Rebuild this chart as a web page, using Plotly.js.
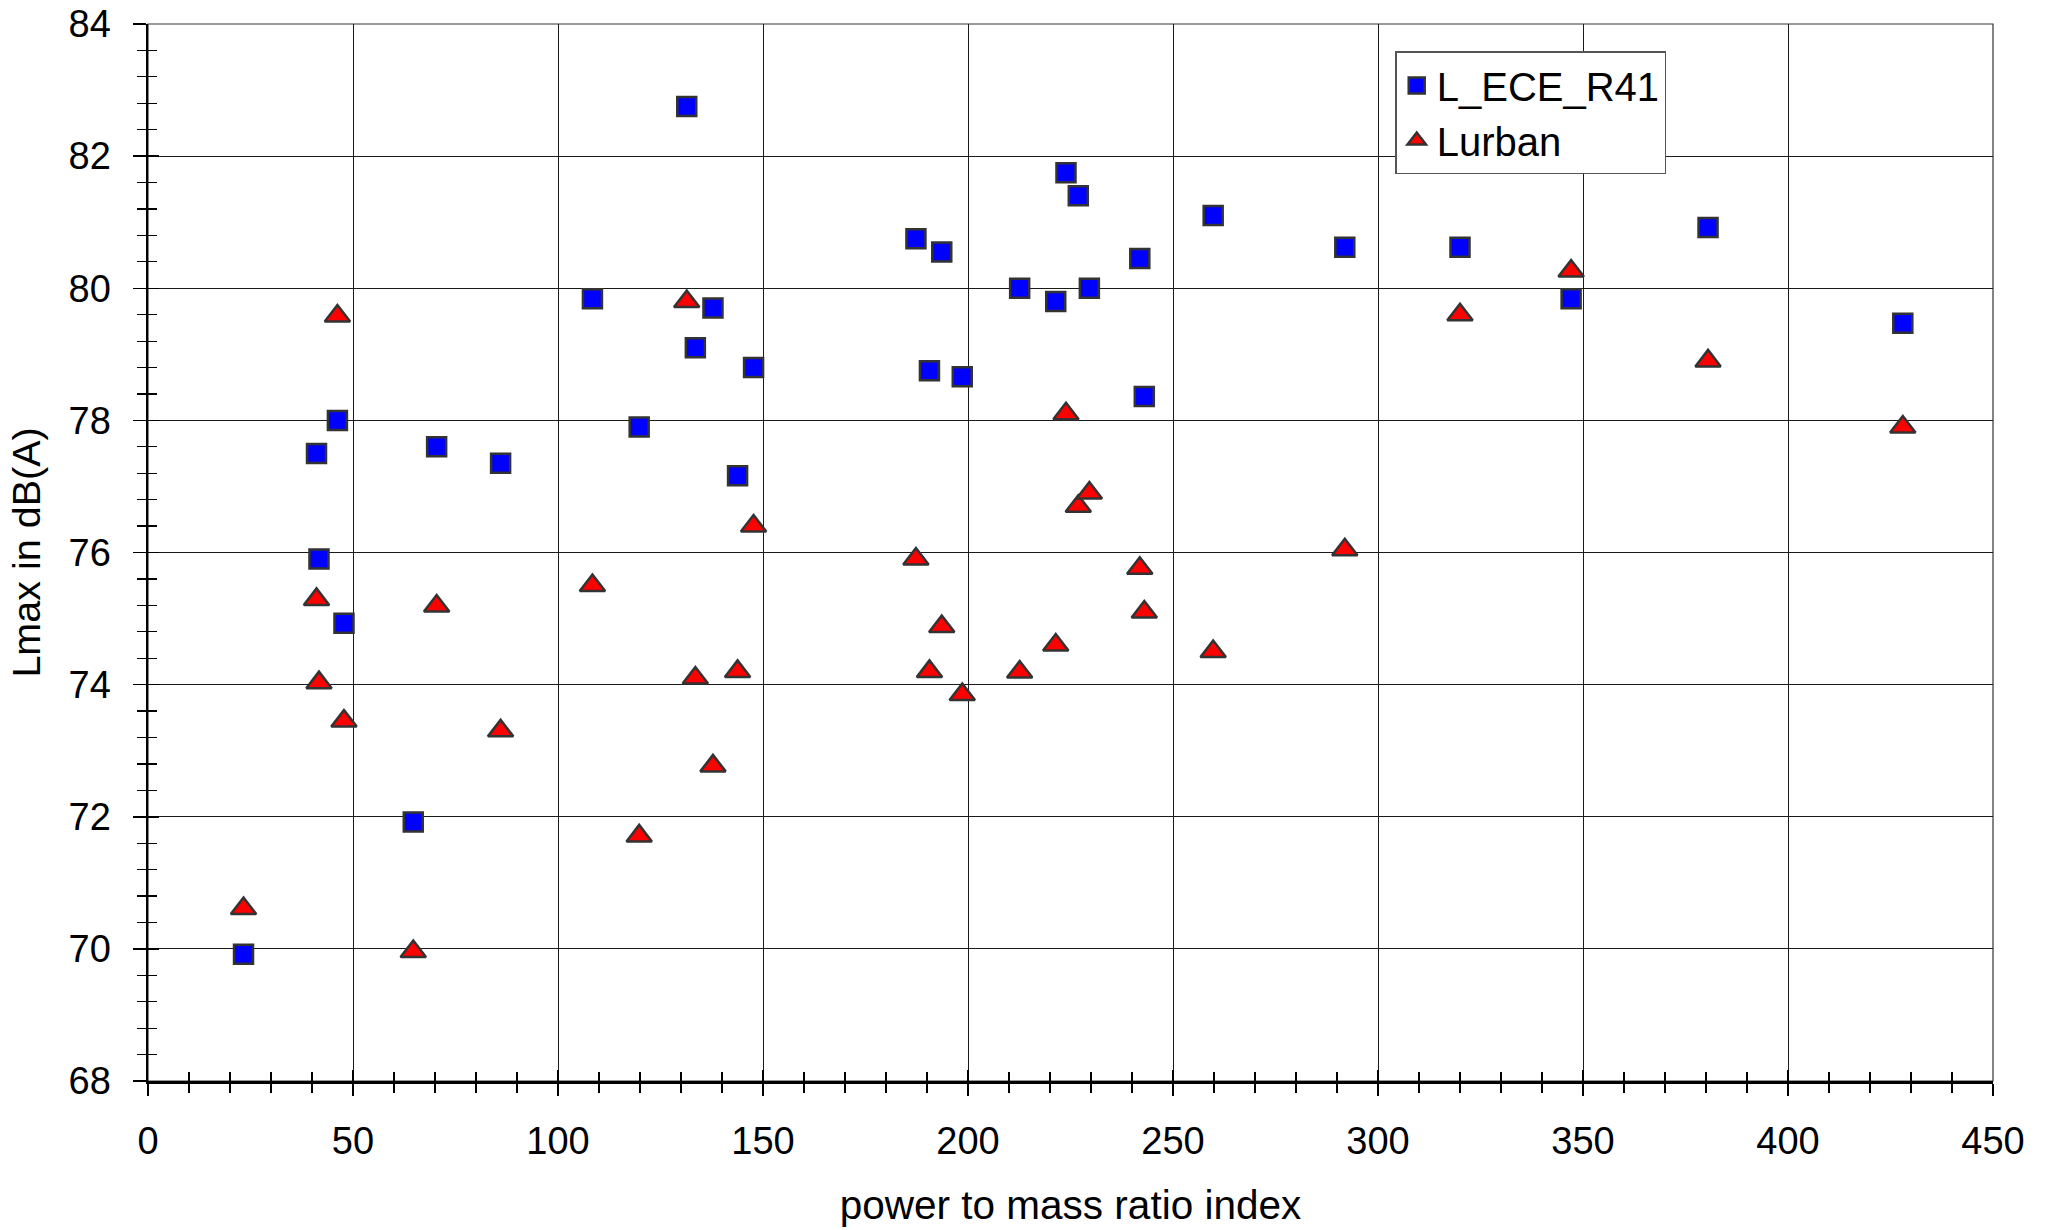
<!DOCTYPE html>
<html>
<head>
<meta charset="utf-8">
<script src="https://cdn.plot.ly/plotly-3.0.1.min.js"></script>
<style>
  html, body { margin: 0; padding: 0; background: #fff; }
  #chart { width: 2049px; height: 1230px; }
</style>
</head>
<body>
<div id="chart"></div>
<script>
// Power to mass ratio index of each vehicle
const pmrIndex = [23.3, 41.1, 41.7, 46.2, 47.8, 64.7, 70.4, 86.0, 108.4, 119.8,
                  131.4, 133.5, 137.8, 143.8, 147.7, 187.3, 190.6, 193.6, 198.6, 212.6,
                  221.4, 223.9, 226.9, 229.6, 241.9, 243.0, 259.8, 291.9, 320.0, 347.1,
                  380.5, 428.0];

// Maximum level per ECE R41 test, dB(A)
const lEceR41 = [69.92, 77.50, 75.90, 78.00, 74.93, 71.92, 77.60, 77.35, 79.84, 77.90,
                 82.75, 79.10, 79.70, 77.16, 78.80, 80.75, 78.75, 80.55, 78.66, 80.00,
                 79.80, 81.75, 81.40, 80.00, 80.45, 78.36, 81.10, 80.62, 80.62, 79.84,
                 80.92, 79.47];

// Maximum level in urban driving, dB(A)
const lUrban = [70.61, 75.29, 74.03, 79.58, 73.45, 69.96, 75.19, 73.30, 75.50, 71.71,
                79.80, 74.10, 72.77, 74.20, 76.40, 75.90, 74.20, 74.88, 73.85, 74.19,
                74.60, 78.10, 76.70, 76.90, 75.76, 75.10, 74.50, 76.04, 79.60, 80.26,
                78.90, 77.90];

const seriesNames = ['L_ECE_R41', 'Lurban'];
const xTitle = 'power to mass ratio index';
const yTitle = 'Lmax in dB(A)';

const FONT = '"Liberation Sans", Arial, Helvetica, sans-serif';
const edge = '#333333';

const traces = [
  {
    type: 'scatter', mode: 'markers', name: seriesNames[0],
    x: pmrIndex, y: lEceR41,
    marker: { symbol: 'square', size: 19, color: '#0000ff', line: { color: edge, width: 2.5 } },
    hoverinfo: 'x+y'
  },
  {
    type: 'scatter', mode: 'markers', name: seriesNames[1],
    x: pmrIndex, y: lUrban,
    marker: { symbol: 'triangle-up', size: 22, color: '#ff0000', line: { color: edge, width: 2.5 } },
    hoverinfo: 'x+y'
  },
  // empty trace that carries the inner half of the crossing tick marks
  { type: 'scatter', mode: 'markers', x: [], y: [], xaxis: 'x2', yaxis: 'y2',
    showlegend: false, hoverinfo: 'skip' }
];

const xRange = [0, 450];
const yRange = [68, 84];

const layout = {
  width: 2049, height: 1230,
  paper_bgcolor: '#ffffff', plot_bgcolor: '#ffffff',
  font: { family: FONT, size: 38, color: '#000' },
  margin: { l: 148, r: 56, t: 24, b: 149, pad: 0 },
  showlegend: true,
  legend: {
    x: 0.676, y: 0.974, xanchor: 'left', yanchor: 'top',
    bgcolor: '#ffffff', bordercolor: '#555555', borderwidth: 1.5,
    font: { family: FONT, size: 40, color: '#000' },
    itemsizing: 'trace', tracegroupgap: 0
  },
  xaxis: {
    range: xRange, dtick: 50, tick0: 0,
    showgrid: true, gridcolor: '#1a1a1a', gridwidth: 1,
    zeroline: false,
    showline: true, linecolor: '#000', linewidth: 2.5,
    ticks: 'outside', ticklen: 12, tickwidth: 1.5, tickcolor: '#000',
    minor: { dtick: 10, ticks: 'outside', ticklen: 9, tickwidth: 1.2, tickcolor: '#000', showgrid: false },
    tickfont: { family: FONT, size: 38, color: '#000' },
    ticklabelstandoff: 13,
    title: { text: xTitle, font: { family: FONT, size: 40.5, color: '#000' }, standoff: 30 },
    fixedrange: true
  },
  yaxis: {
    range: yRange, dtick: 2, tick0: 68,
    showgrid: true, gridcolor: '#1a1a1a', gridwidth: 1,
    zeroline: false,
    showline: true, linecolor: '#000', linewidth: 2.5,
    ticks: 'outside', ticklen: 13, tickwidth: 1.5, tickcolor: '#000',
    minor: { dtick: 0.4, ticks: 'outside', ticklen: 9, tickwidth: 1.2, tickcolor: '#000', showgrid: false },
    tickfont: { family: FONT, size: 38, color: '#000' },
    ticklabelstandoff: 14,
    title: { text: yTitle, font: { family: FONT, size: 39.5, color: '#000' }, standoff: 16 },
    fixedrange: true
  },
  xaxis2: {
    overlaying: 'x', anchor: 'y2', side: 'bottom', range: xRange, dtick: 50, tick0: 0,
    showgrid: false, zeroline: false, showline: false, showticklabels: false,
    ticks: 'inside', ticklen: 11, tickwidth: 1.5, tickcolor: '#000',
    minor: { dtick: 10, ticks: 'inside', ticklen: 9, tickwidth: 1.2, tickcolor: '#000', showgrid: false },
    fixedrange: true
  },
  yaxis2: {
    overlaying: 'y', anchor: 'x2', side: 'left', range: yRange, dtick: 2, tick0: 68,
    showgrid: false, zeroline: false, showline: false, showticklabels: false,
    ticks: 'inside', ticklen: 11, tickwidth: 1.5, tickcolor: '#000',
    minor: { dtick: 0.4, ticks: 'inside', ticklen: 9, tickwidth: 1.2, tickcolor: '#000', showgrid: false },
    fixedrange: true
  },
  shapes: [
    // plot frame on the top and right edges
    { type: 'rect', xref: 'paper', yref: 'paper', x0: 0, x1: 1, y0: 0, y1: 1,
      line: { color: '#333333', width: 1.2 }, layer: 'below' }
  ]
};

Plotly.newPlot('chart', traces, layout, { displayModeBar: false, staticPlot: true });
</script>
</body>
</html>
